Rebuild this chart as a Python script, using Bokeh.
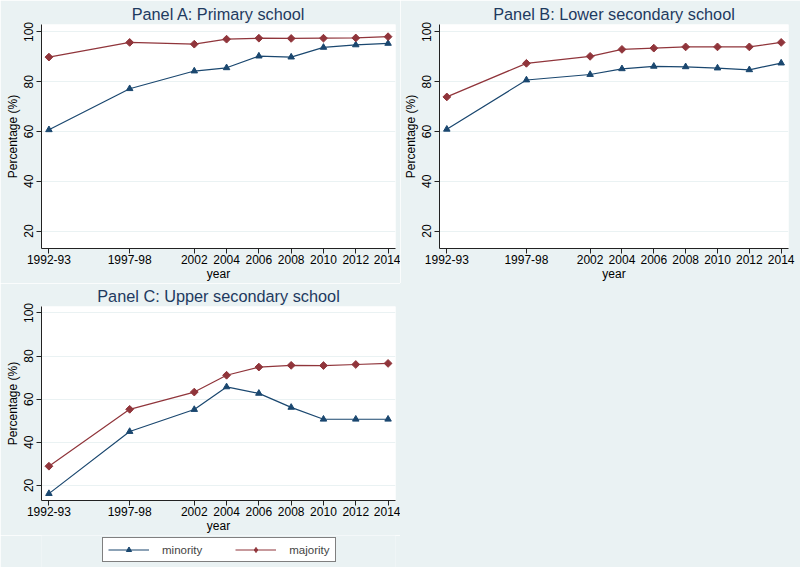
import math
from bokeh.plotting import figure
from bokeh.models import Range1d, FixedTicker, Legend, LegendItem, Spacer
from bokeh.layouts import row, column
from bokeh.embed import file_html
from bokeh.resources import INLINE

# ---- data ----
years = [1993, 1998, 2002, 2004, 2006, 2008, 2010, 2012, 2014]
year_labels = ["1992-93", "1997-98", "2002", "2004", "2006", "2008", "2010", "2012", "2014"]
y_ticks = [20, 40, 60, 80, 100]

primary_minority = [60.7, 77.2, 84.3, 85.6, 90.3, 89.9, 93.8, 94.8, 95.4]
primary_majority = [89.9, 95.8, 95.1, 97.1, 97.5, 97.4, 97.5, 97.6, 98.1]
lower_minority = [60.9, 80.7, 82.9, 85.2, 86.2, 86.0, 85.5, 84.8, 87.5]
lower_majority = [73.9, 87.4, 90.2, 93.0, 93.5, 94.0, 94.0, 94.0, 95.8]
upper_minority = [16.2, 45.0, 55.2, 65.7, 62.7, 56.2, 50.7, 50.7, 50.7]
upper_majority = [28.9, 55.3, 63.3, 71.1, 74.9, 75.7, 75.6, 76.1, 76.6]

titles = ["Panel A: Primary school", "Panel B: Lower secondary school", "Panel C: Upper secondary school"]
series_names = ["minority", "majority"]

# ---- style ----
BG = "#EAF2F3"
GRID = "#EAF2F3"
C_MIN = "#1A476F"
C_MAJ = "#90353B"
TITLE_C = "#1E3A5F"
AX_C = "#222222"
FONT = "Liberation Sans"
X_RANGE = (1992.54, 2014.46)
Y_RANGE = (13, 103)


def add_series(p, minority, majority, legend_markers=False):
    l1 = p.line(years, minority, line_color=C_MIN, line_width=1.2)
    s1 = p.scatter(years, minority, marker="triangle", size=6.5, fill_color=C_MIN, line_color=C_MIN)
    l2 = p.line(years, majority, line_color=C_MAJ, line_width=1.2)
    if legend_markers:
        s2 = p.scatter(years, majority, marker="diamond", size=8, fill_color=C_MAJ, line_color=C_MAJ)
    else:
        s2 = p.scatter(years, majority, marker="square", angle=math.pi / 4, size=5.5,
                       fill_color=C_MAJ, line_color=C_MAJ)
    return l1, s1, l2, s2


def make_panel(title, minority, majority, width, height, mb):
    p = figure(width=width, height=height, x_range=Range1d(*X_RANGE), y_range=Range1d(*Y_RANGE),
               toolbar_location=None, output_backend="svg",
               min_border_left=mb[0], min_border_right=mb[1], min_border_top=mb[2], min_border_bottom=mb[3])
    p.background_fill_color = "white"
    p.border_fill_color = BG
    p.outline_line_color = None
    p.xgrid.visible = False
    p.ygrid.grid_line_color = GRID
    p.ygrid.grid_line_width = 1
    p.ygrid.ticker = FixedTicker(ticks=y_ticks)

    p.title.text = title
    p.title.align = "center"
    p.title.text_font = FONT
    p.title.text_font_size = "16.3px"
    p.title.text_font_style = "normal"
    p.title.text_color = TITLE_C
    p.title.standoff = 3
    p.title.offset = 0

    p.xaxis.ticker = FixedTicker(ticks=years)
    p.xaxis.major_label_overrides = {yr: lab for yr, lab in zip(years, year_labels)}
    p.yaxis.ticker = FixedTicker(ticks=y_ticks)
    p.yaxis.major_label_orientation = "vertical"
    p.xaxis.axis_label = "year"
    p.yaxis.axis_label = "Percentage (%)"
    for ax in (p.xaxis, p.yaxis):
        ax.axis_line_color = AX_C
        ax.axis_line_width = 1
        ax.major_tick_line_color = AX_C
        ax.major_tick_out = 5
        ax.major_tick_in = 0
        ax.minor_tick_line_color = None
        ax.major_label_text_font = FONT
        ax.major_label_text_font_size = "12px"
        ax.major_label_text_color = "black"
        ax.axis_label_text_font = FONT
        ax.axis_label_text_font_size = "12px"
        ax.axis_label_text_font_style = "normal"
        ax.axis_label_text_color = "black"
    p.xaxis.major_label_standoff = 1
    p.xaxis.axis_label_standoff = 0
    p.yaxis.major_label_standoff = 3
    p.yaxis.axis_label_standoff = 2

    add_series(p, minority, majority)
    return p


pA = make_panel(titles[0], primary_minority, primary_majority, 400, 283, (41, 5, 24, 33))
pB = make_panel(titles[1], lower_minority, lower_majority, 400, 283, (33, 12, 24, 33))
pC = make_panel(titles[2], upper_minority, upper_majority, 400, 252, (41, 5, 22, 33))

# legend strip under panel C (its renderers lie outside its ranges, only the legend is seen)
pL = figure(width=400, height=32, x_range=Range1d(0, 1), y_range=Range1d(0, 1),
            toolbar_location=None, output_backend="svg", x_axis_location=None, y_axis_location=None,
            min_border_left=0, min_border_right=0, min_border_top=0, min_border_bottom=0)
pL.background_fill_color = BG
pL.border_fill_color = BG
pL.outline_line_color = None
pL.grid.visible = False
l1, s1, l2, s2 = add_series(pL, upper_minority, upper_majority, legend_markers=True)
leg = Legend(items=[LegendItem(label=series_names[0], renderers=[l1, s1]),
                    LegendItem(label=series_names[1], renderers=[l2, s2])],
             orientation="horizontal", location=(61, 5))
leg.margin = 0
leg.padding = 5
leg.spacing = 33
leg.glyph_width = 41
leg.glyph_height = 13
leg.label_height = 13
leg.label_standoff = 13
leg.label_text_font = FONT
leg.label_text_font_size = "11.5px"
leg.border_line_color = "black"
leg.border_line_width = 1
leg.background_fill_color = "white"
leg.background_fill_alpha = 1
pL.add_layout(leg)

filler = Spacer(width=400, height=284, styles={"background-color": BG})

layout = column(row(pA, pB), row(column(pC, pL), filler))
open("out.html", "w").write(file_html(layout, INLINE))
